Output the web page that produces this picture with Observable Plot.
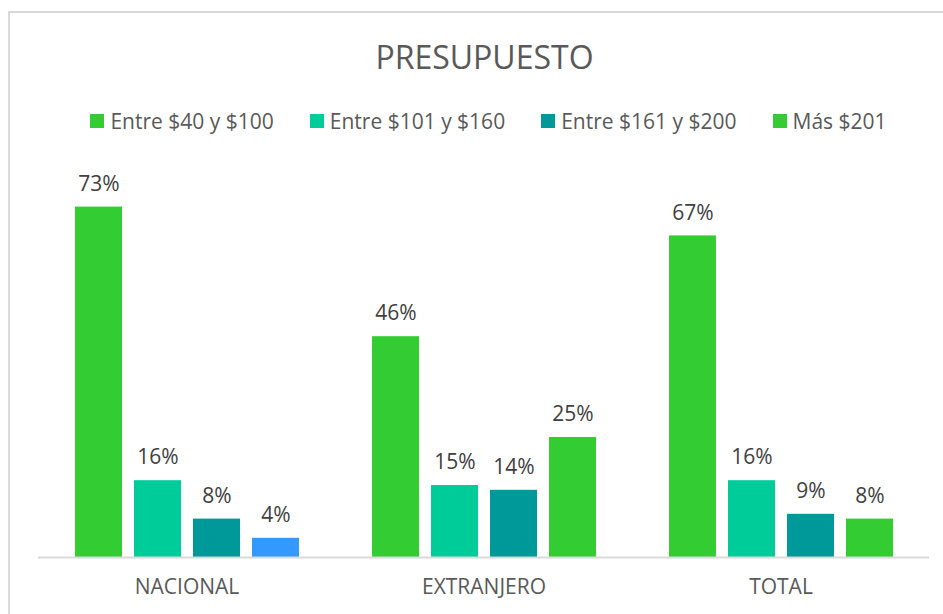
<!DOCTYPE html>
<html>
<head>
<meta charset="utf-8">
<script src="https://cdn.jsdelivr.net/npm/d3@7"></script>
<script src="https://cdn.jsdelivr.net/npm/@observablehq/plot@0.6"></script>
<style>
  html, body { margin: 0; padding: 0; background: #fff; }
  #chart { position: relative; width: 943px; height: 614px; overflow: hidden; font-family: "Open Sans", sans-serif; }
  #frame { position: absolute; left: 8px; top: 11px; width: 1000px; height: 1000px; border-left: 2px solid #d9d9d9; border-top: 2px solid #d9d9d9; box-sizing: border-box; pointer-events: none; }
  #title { height: 90px; box-sizing: border-box; padding-top: 38px; padding-left: 26px; line-height: 38px; text-align: center; font-size: 32px; color: #595959; }
  #legend { height: 50px; box-sizing: border-box; padding-top: 11px; padding-left: 34px; line-height: 28px; display: flex; justify-content: center; font-size: 21px; color: #595959; }
  .item { display: flex; align-items: center; margin: 0 18px; }
  .sw { width: 14px; height: 14px; margin-right: 6px; }
</style>
</head>
<body>
<div id="chart">
  <div id="frame"></div>
  <div id="title">PRESUPUESTO</div>
  <div id="legend"></div>
  <div id="plot"></div>
</div>
<script>
const groups = ["NACIONAL", "EXTRANJERO", "TOTAL"];
const series = ["Entre $40 y $100", "Entre $101 y $160", "Entre $161 y $200", "Más $201"];
const nacional = [0.73, 0.16, 0.08, 0.04];
const extranjero = [0.46, 0.15, 0.14, 0.25];
const total = [0.67, 0.16, 0.09, 0.08];
const colors = ["#33cc33", "#00cc99", "#009999", "#33cc33"];
const highlightColor = "#3399ff";

const valuesByGroup = [nacional, extranjero, total];
const data = groups.flatMap((g, gi) => series.map((s, si) => ({group: g, series: s, value: valuesByGroup[gi][si]})));

const legend = document.getElementById("legend");
series.forEach((s, i) => {
  const it = document.createElement("div");
  it.className = "item";
  it.innerHTML = `<span class="sw" style="background:${colors[i]}"></span><span>${s}</span>`;
  legend.appendChild(it);
});

const fillOf = d => (d.group === "NACIONAL" && d.series === "Más $201") ? highlightColor : colors[series.indexOf(d.series)];

const plot = Plot.plot({
  width: 943,
  height: 474,
  marginLeft: 37,
  marginRight: 14,
  marginTop: 33,
  marginBottom: 57,
  style: {fontFamily: "Open Sans, sans-serif", background: "transparent", overflow: "visible"},
  fx: {domain: groups, padding: 0, label: null, axis: null},
  x: {domain: series, paddingInner: 0.207, paddingOuter: 0.607, axis: null},
  y: {domain: [0, 0.8], axis: null},
  marks: [
    Plot.barY(data, {fx: "group", x: "series", y: "value", fill: fillOf}),
    Plot.ruleY([0], {stroke: "#d9d9d9", strokeWidth: 2}),
    Plot.text(data, {fx: "group", x: "series", y: "value", text: d => Math.round(d.value * 100) + "%", dy: -23, fontSize: 21, fill: "#404040"}),
    Plot.axisFx({domain: groups, tickSize: 0, tickPadding: 22, fontSize: 21, color: "#595959", label: null, anchor: "bottom"})
  ]
});
document.getElementById("plot").appendChild(plot);
</script>
</body>
</html>
